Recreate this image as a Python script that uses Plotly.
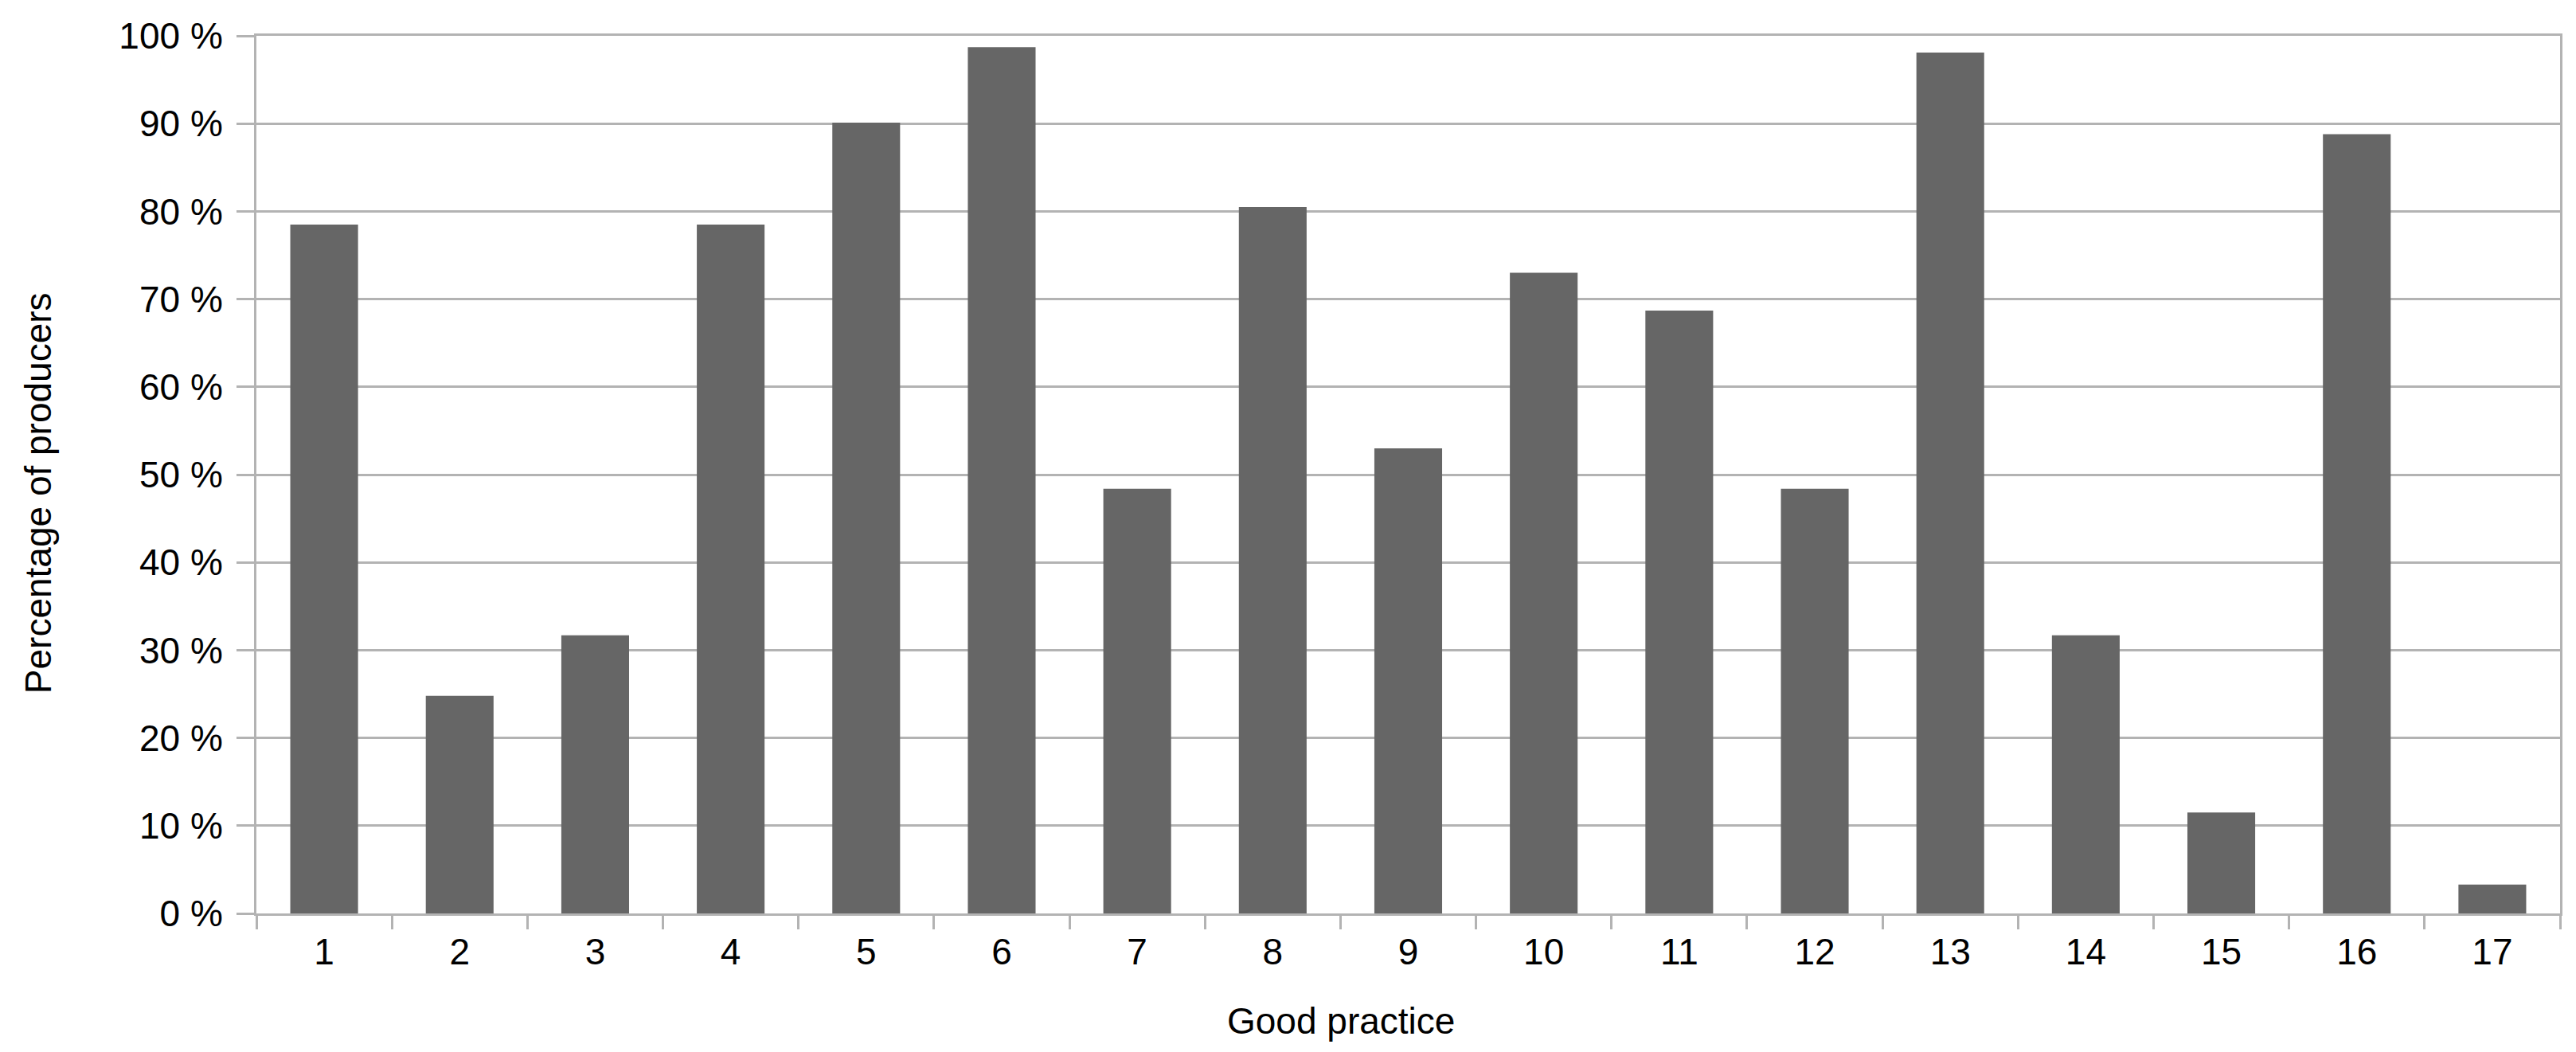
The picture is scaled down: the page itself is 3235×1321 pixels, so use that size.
import plotly.graph_objects as go

categories = [str(i) for i in range(1, 18)]
values = [78.5, 24.8, 31.7, 78.5, 90.1, 98.7, 48.4, 80.5, 53.0, 73.0, 68.7, 48.4, 98.1, 31.7, 11.5, 88.8, 3.3]
y_ticks = list(range(0, 101, 10))
y_tick_labels = [f"{v} %" for v in y_ticks]
x_title = "Good practice"
y_title = "Percentage of producers"

FONT = "Liberation Sans, Arial, sans-serif"
GRID = "#b3b3b3"
FS = 46

fig = go.Figure(go.Bar(x=categories, y=values, marker=dict(color="#666666", line=dict(width=0))))

fig.update_layout(
    width=3235, height=1321,
    margin=dict(l=314, r=28, t=37, b=182, autoexpand=False),
    paper_bgcolor="white", plot_bgcolor="white",
    bargap=0.5, showlegend=False,
    font=dict(family=FONT, size=FS, color="#000000"),
)
fig.update_xaxes(
    type="category", tickson="boundaries", ticks="outside", ticklen=17, tickwidth=3, tickcolor=GRID,
    showline=True, linecolor=GRID, linewidth=3, mirror=True, showgrid=False, automargin=False,
    tickfont=dict(family=FONT, size=FS, color="#000000"), ticklabelstandoff=6,
)
fig.update_yaxes(
    range=[0, 100], tickmode="array", tickvals=y_ticks, ticktext=y_tick_labels,
    ticks="outside", ticklen=22, tickwidth=3, tickcolor=GRID,
    showline=True, linecolor=GRID, linewidth=3, mirror=True, automargin=False,
    showgrid=True, gridcolor=GRID, gridwidth=3, zeroline=False,
    tickfont=dict(family=FONT, size=FS, color="#000000"), ticklabelstandoff=8,
)
fig.add_annotation(text=x_title, xref="paper", yref="paper", x=0.4708, y=-0.1225,
                   xanchor="center", yanchor="middle", showarrow=False,
                   font=dict(family=FONT, size=FS, color="#000000"))
fig.add_annotation(text=y_title, xref="paper", yref="paper", x=-0.0947, y=0.479,
                   xanchor="center", yanchor="middle", textangle=-90, showarrow=False,
                   font=dict(family=FONT, size=FS, color="#000000"))

fig.write_html("out.html")
